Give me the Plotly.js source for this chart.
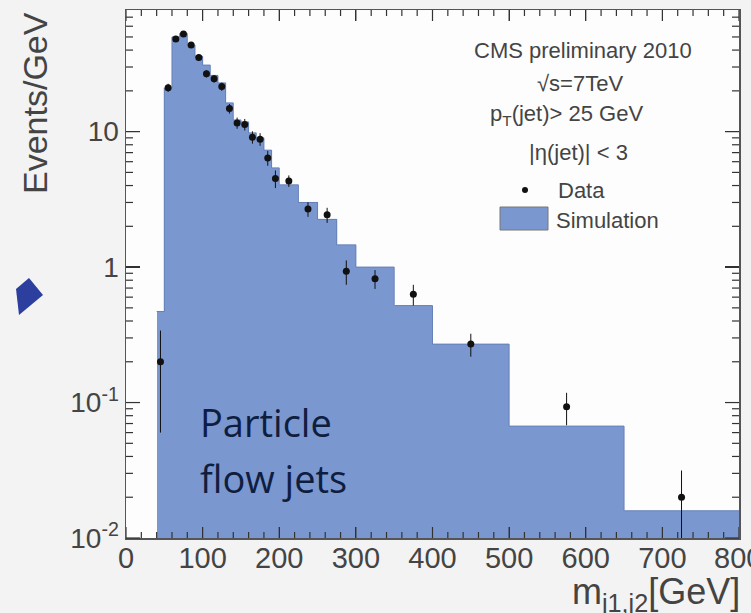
<!DOCTYPE html>
<html>
<head>
<meta charset="utf-8">
<script src="https://cdn.plot.ly/plotly-3.0.1.min.js"></script>
<style>html,body{margin:0;padding:0;background:#f3f3f3;}#chart{width:751px;height:613px;}</style>
</head>
<body>
<div id="chart"></div>
<script>
// Bin edges (GeV)
const binEdges = [40,50,60,70,80,90,100,110,120,130,140,150,160,170,180,190,200,225,250,275,300,350,400,500,650,800];
// Data (Events/GeV)
const dataVals = [0.20,21.1,48.3,52.6,43.6,35.2,26.7,24.6,21.5,14.8,11.6,11.3,9.1,8.8,6.4,4.5,4.33,2.68,2.43,0.93,0.82,0.63,0.27,0.093,0.020];
const dataErr  = [0.14,1.45,2.2,2.3,2.1,1.9,1.6,1.6,1.5,1.2,1.1,1.1,0.95,0.94,0.8,0.67,0.42,0.33,0.31,0.19,0.13,0.11,0.052,0.025,0.0115];
// Simulation (Events/GeV)
const simVals  = [0.47,21,50,53,43.6,36,31,26,22.9,16.3,12.2,11.8,9.8,9.0,7.3,5.4,4.05,3.0,2.25,1.46,1.0,0.52,0.27,0.067,0.0159];
// Axis ticks
const xTickVals = [0,100,200,300,400,500,600,700];
const xMajorStep = 100, xMinorStep = 20;
const yTickVals = [0.01,0.1,1,10];
const yTickText = ['10<sup>-2</sup>','10<sup>-1</sup>','1','10'];
const yDecades = [-2,-1,0,1];
const yMinorDigits = [2,3,4,5,6,7,8,9];

const centers = [], widths = [];
for (let i = 0; i < binEdges.length - 1; i++) {
  centers.push((binEdges[i] + binEdges[i+1]) / 2);
  widths.push(binEdges[i+1] - binEdges[i]);
}
const stepY = simVals.concat([simVals[simVals.length-1]]);
const yMinor = [];
yDecades.forEach(d => yMinorDigits.forEach(k => yMinor.push(k * Math.pow(10, d))));

const simColor = '#7a97cf';
const FONT = 'Liberation Sans, Arial, sans-serif';
const yRange = [-2, 1.898];
const TICKC = '#333';

// plot area in pixels
const L = 126, R = 739, T = 10, B = 538;
const PW = R - L, PH = B - T;
const px = x => (x - L) / PW;
const py = y => (B - y) / PH;
const yPaper = v => (Math.log10(v) - yRange[0]) / (yRange[1] - yRange[0]);

// axis tick marks (inside, on all four sides)
const tickShapes = [];
for (let v = 0; v <= 800; v += xMinorStep) {
  const len = (v % xMajorStep === 0 ? 11 : 6) / PH;
  tickShapes.push({type:'line', xref:'x', yref:'paper', x0:v, x1:v, y0:0, y1:len, line:{color:TICKC, width:1.2}, layer:'above'});
  tickShapes.push({type:'line', xref:'x', yref:'paper', x0:v, x1:v, y0:1, y1:1-len, line:{color:TICKC, width:1.2}, layer:'above'});
}
yTickVals.concat(yMinor).forEach((v, i) => {
  const yp = yPaper(v);
  if (yp < 0 || yp > 1) return;
  const len = (i < yTickVals.length ? 14 : 7) / PW;
  tickShapes.push({type:'line', xref:'paper', yref:'paper', x0:0, x1:len, y0:yp, y1:yp, line:{color:TICKC, width:1.2}, layer:'above'});
  tickShapes.push({type:'line', xref:'paper', yref:'paper', x0:1, x1:1-len, y0:yp, y1:yp, line:{color:TICKC, width:1.2}, layer:'above'});
});

const traces = [
  {type:'bar', x:centers, y:simVals, width:widths, marker:{color:simColor, line:{width:0}}, hoverinfo:'skip', showlegend:false},
  {type:'scatter', mode:'lines', x:binEdges, y:stepY, line:{shape:'hv', color:'#6680b8', width:1}, hoverinfo:'skip', showlegend:false},
  {type:'scatter', mode:'markers', x:centers, y:dataVals,
   error_y:{type:'data', array:dataErr, visible:true, color:'#111', thickness:1, width:0},
   marker:{color:'#111', size:7}, showlegend:false}
];

const annFont = {family: FONT, size: 22, color: '#444'};
const tickFontX = {family:FONT, size:29, color:'#444'};
const layout = {
  width:751, height:613,
  margin:{l:L, r:751-R, t:T, b:613-B, pad:0},
  paper_bgcolor:'#f3f3f3', plot_bgcolor:'#fdfdfd',
  bargap:0, showlegend:false,
  xaxis:{range:[0,800], tickmode:'array', tickvals:xTickVals, ticks:'inside', ticklen:11, tickwidth:1.2, tickcolor:TICKC,
    mirror:'allticks', showline:true, linecolor:'#555', linewidth:1.5, showgrid:false, zeroline:false,
    tickfont:tickFontX, ticklabelstandoff:-6},
  yaxis:{type:'log', range:yRange, tickmode:'array', tickvals:yTickVals, ticktext:yTickText, ticks:'inside', ticklen:14, tickwidth:1.2, tickcolor:TICKC,
    mirror:'allticks', showline:true, linecolor:'#555', linewidth:1.5, showgrid:false, zeroline:false,
    tickfont:{family:FONT, size:28, color:'#444'}},
  annotations:[
    {xref:'paper', yref:'paper', x:px(738), y:py(558), text:'800', showarrow:false, font:tickFontX, xanchor:'center', yanchor:'middle'},
    {xref:'paper', yref:'paper', x:px(583), y:py(50), text:'CMS preliminary 2010', showarrow:false, font:annFont, xanchor:'center', yanchor:'middle'},
    {xref:'paper', yref:'paper', x:px(580), y:py(83), text:'\u221As=7TeV', showarrow:false, font:annFont, xanchor:'center', yanchor:'middle'},
    {xref:'paper', yref:'paper', x:px(566), y:py(115), text:'p<sub>T</sub>(jet)> 25 GeV', showarrow:false, font:annFont, xanchor:'center', yanchor:'middle'},
    {xref:'paper', yref:'paper', x:px(578), y:py(152), text:'|\u03B7(jet)| < 3', showarrow:false, font:annFont, xanchor:'center', yanchor:'middle'},
    {xref:'paper', yref:'paper', x:px(556), y:py(190), text:'Data', showarrow:false, font:annFont, xanchor:'left', yanchor:'middle'},
    {xref:'paper', yref:'paper', x:px(554), y:py(220), text:'Simulation', showarrow:false, font:annFont, xanchor:'left', yanchor:'middle'},
    {xref:'paper', yref:'paper', x:px(198), y:py(422), text:'Particle', showarrow:false, font:{family:'Open Sans, Noto Sans, sans-serif', size:38, color:'#0f1d3f'}, xanchor:'left', yanchor:'middle'},
    {xref:'paper', yref:'paper', x:px(198), y:py(478), text:'flow jets', showarrow:false, font:{family:'Open Sans, Noto Sans, sans-serif', size:38, color:'#0f1d3f'}, xanchor:'left', yanchor:'middle'},
    {xref:'paper', yref:'paper', x:px(35), y:py(103), text:'Events/GeV', textangle:-90, showarrow:false, font:{family:FONT, size:34, color:'#444'}, xanchor:'center', yanchor:'middle'},
    {xref:'paper', yref:'paper', x:px(742), y:py(594), text:'m<sub>j1,j2</sub>[GeV]', showarrow:false, font:{family:FONT, size:36, color:'#444'}, xanchor:'right', yanchor:'middle'}
  ],
  shapes:[
    {type:'circle', xref:'paper', yref:'paper', x0:px(522), x1:px(528), y0:py(193), y1:py(187), fillcolor:'#111', line:{width:0}},
    {type:'rect', xref:'paper', yref:'paper', x0:px(500), x1:px(548), y0:py(230), y1:py(207), fillcolor:simColor, line:{color:'#777', width:1}},
    {type:'path', xref:'paper', yref:'paper', layer:'above',
     path:'M '+px(16)+' '+py(289)+' L '+px(29)+' '+py(278)+' L '+px(43)+' '+py(295)+' L '+px(19)+' '+py(315)+' Z',
     fillcolor:'#2c3f9e', line:{width:0}}
  ].concat(tickShapes)
};

Plotly.newPlot('chart', traces, layout, {displayModeBar:false, staticPlot:true});
</script>
</body>
</html>
